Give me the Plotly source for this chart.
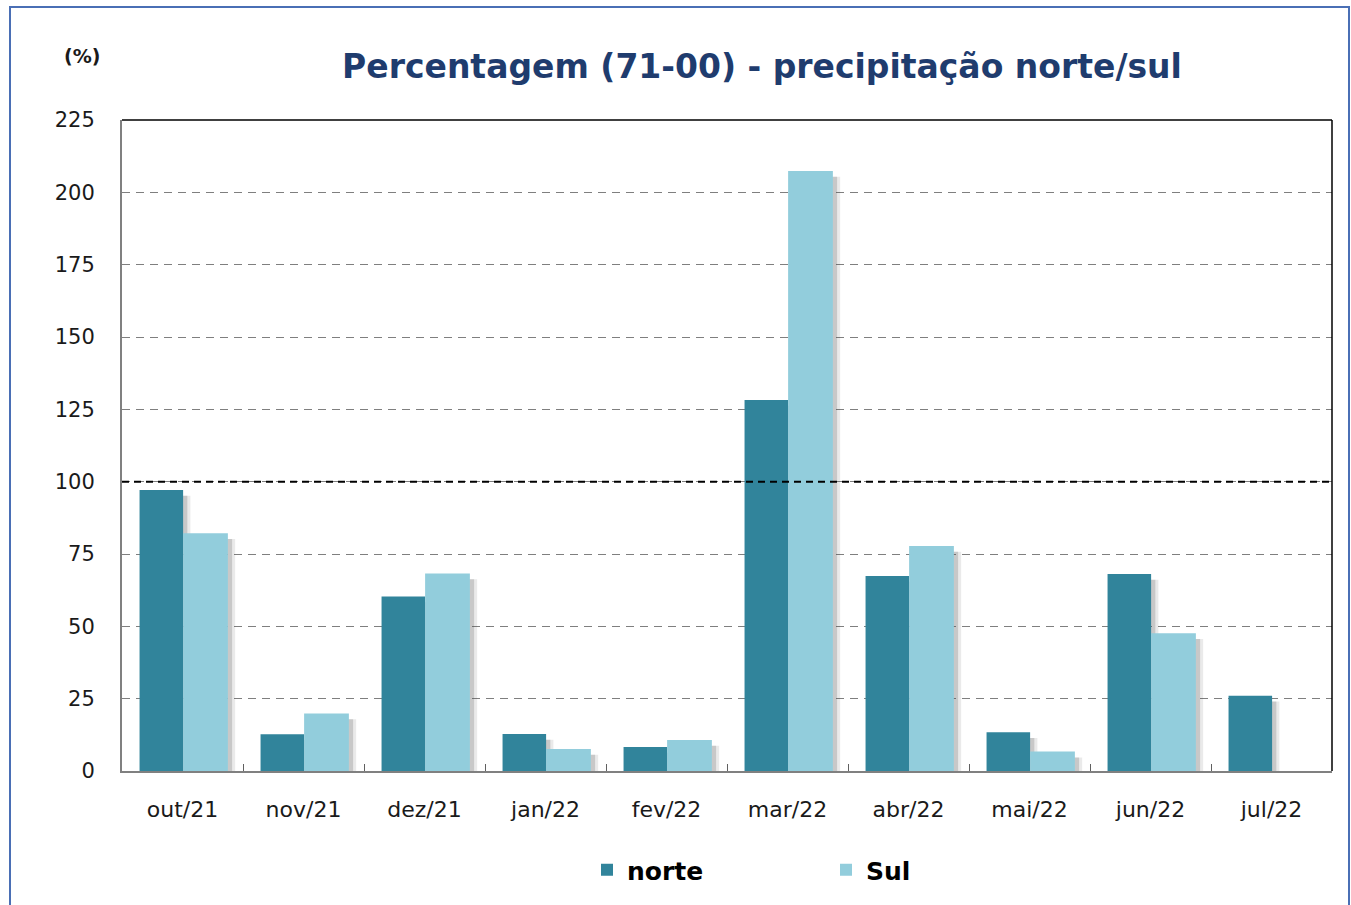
import plotly.graph_objects as go

categories = ["out/21", "nov/21", "dez/21", "jan/22", "fev/22", "mar/22", "abr/22", "mai/22", "jun/22", "jul/22"]
norte = [97.1, 12.7, 60.3, 12.8, 8.3, 128.2, 67.4, 13.4, 68.1, 26.0]
sul = [82.2, 19.9, 68.3, 7.6, 10.7, 207.4, 77.8, 6.7, 47.6, None]
y_ticks = [0, 25, 50, 75, 100, 125, 150, 175, 200, 225]
reference_value = 100

c_norte = "#31849B"
c_sul = "#92CDDC"

W, H = 1351, 905
ML, MR, MT, MB = 122, 19, 120, 134
PW, PH = W - ML - MR, H - MT - MB

def px_x(p):
    return (p - ML) / PW

def px_y(p):
    return 1 - (p - MT) / PH

shadow_drop = 2.0

fig = go.Figure()
# soft drop shadows (two layers)
for vals, off, wd in [(norte, -0.355, 0.36), (sul, 0.005, 0.37)]:
    for shift, alpha in [(0.06, 0.12), (0.035, 0.22)]:
        fig.add_trace(go.Bar(
            x=categories,
            y=[None if v is None else max(v - shadow_drop, 0) for v in vals],
            offset=off + shift, width=wd,
            marker=dict(color=f"rgba(80,80,80,{alpha})", line=dict(width=0)),
            showlegend=False, hoverinfo="skip"))

fig.add_trace(go.Bar(name="<b>norte</b>", x=categories, y=norte, offset=-0.355, width=0.36,
                     marker=dict(color=c_norte, line=dict(width=0))))
fig.add_trace(go.Bar(name="<b>Sul</b>", x=categories, y=sul, offset=0.005, width=0.37,
                     marker=dict(color=c_sul, line=dict(width=0))))

shapes = [
    dict(type="line", xref="paper", yref="y", x0=0, x1=1, y0=reference_value, y1=reference_value,
         line=dict(color="black", width=2, dash="7px,5px"), layer="above"),
    dict(type="line", xref="paper", yref="paper", x0=0, x1=1, y0=1, y1=1,
         line=dict(color="black", width=1.5)),
    dict(type="line", xref="paper", yref="paper", x0=1, x1=1, y0=0, y1=1,
         line=dict(color="black", width=1.5)),
    dict(type="rect", xref="paper", yref="paper", x0=px_x(10), x1=px_x(1349), y0=px_y(908), y1=px_y(7),
         line=dict(color="#4A6FB5", width=2), layer="below"),
]

fig.update_layout(
    width=W, height=H,
    margin=dict(l=ML, r=MR, t=MT, b=MB, pad=0),
    paper_bgcolor="white", plot_bgcolor="white",
    barmode="overlay",
    font=dict(family="DejaVu Sans", color="#1a1a1a"),
    title=dict(text="<b>Percentagem (71-00) - precipitação norte/sul</b>",
               xref="container", yref="container",
               x=762 / W, xanchor="center", y=1 - 66 / H, yanchor="middle",
               font=dict(family="DejaVu Sans", size=33, color="#1F3C6E")),
    xaxis=dict(type="category", categoryorder="array", categoryarray=categories,
               showline=True, linecolor="#808080", linewidth=2,
               ticks="inside", tickson="boundaries", ticklen=7, tickcolor="#606060", tickwidth=1,
               tickfont=dict(size=22, color="#1a1a1a"), showgrid=False, range=[-0.5, 9.5],
               ticklabelstandoff=18),
    yaxis=dict(range=[0, 225], tickvals=y_ticks, showline=True, linecolor="#808080", linewidth=2,
               ticks="",
               tickfont=dict(size=21, color="#1a1a1a"),
               showgrid=True, gridcolor="#7f7f7f", gridwidth=1.3, griddash="8px,6px",
               zeroline=False, ticklabelstandoff=21),
    legend=dict(orientation="h", x=px_x(587), xanchor="left", y=px_y(870), yanchor="middle",
                font=dict(size=25, color="black", family="DejaVu Sans"), entrywidth=194,
                traceorder="normal", itemclick=False),
    shapes=shapes,
    annotations=[dict(text="<b>(%)</b>", xref="paper", yref="paper", x=px_x(82), y=px_y(56),
                      xanchor="center", yanchor="middle", showarrow=False,
                      font=dict(size=19, color="#1a1a1a"))],
)

fig.write_html("out.html", config={"displayModeBar": False},
               post_script="document.body.style.margin='0';")
